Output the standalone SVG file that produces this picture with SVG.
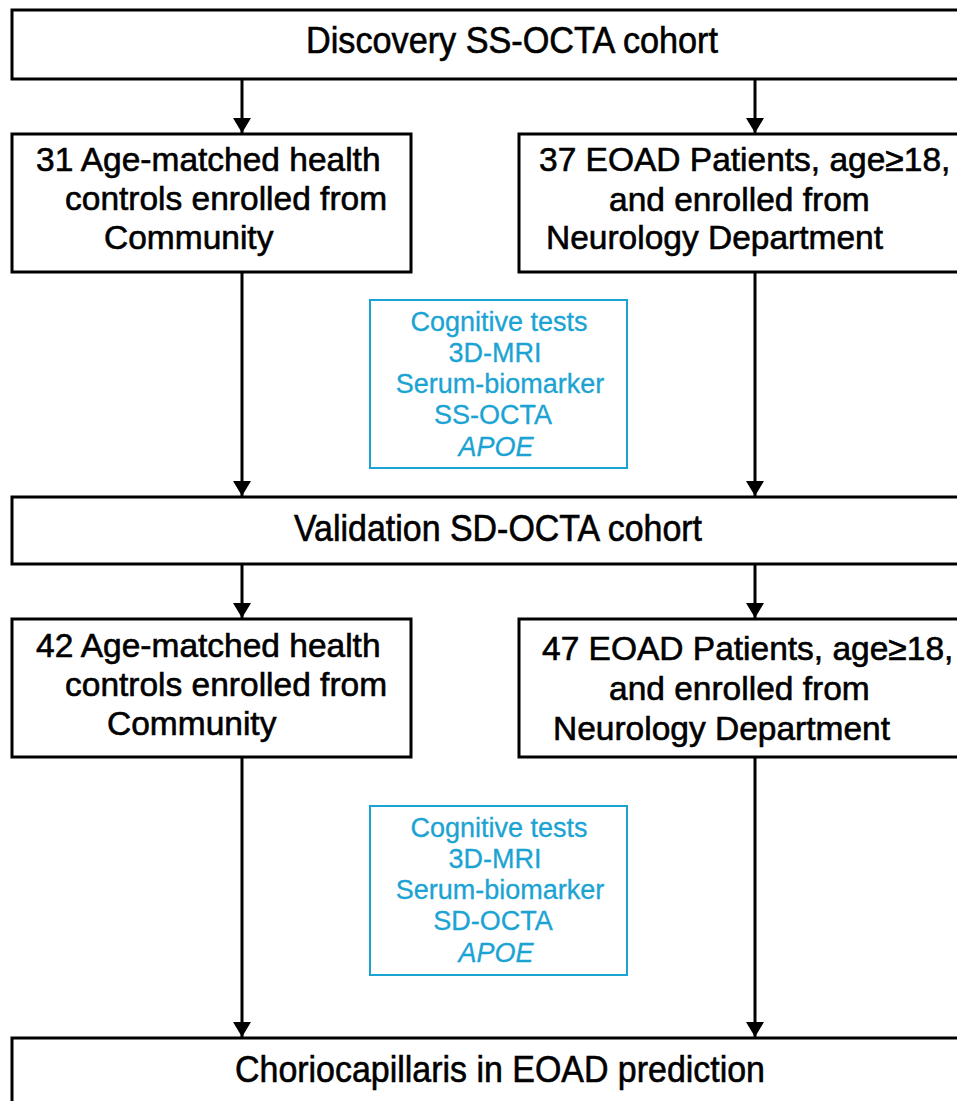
<svg xmlns="http://www.w3.org/2000/svg" width="957" height="1101" viewBox="0 0 957 1101">
<style>
.box{fill:#fff;stroke:#000;stroke-width:3}
.cbox{fill:#fff;stroke:#1ba3d3;stroke-width:2}
.t{font-family:"Liberation Sans",Arial,sans-serif;font-size:33.5px;fill:#000;stroke:#000;stroke-width:0.6}
.h{font-family:"Liberation Sans",Arial,sans-serif;font-size:36px;fill:#000;stroke:#000;stroke-width:0.6;text-anchor:middle}
.c{font-family:"Liberation Sans",Arial,sans-serif;font-size:27px;fill:#1ba3d3;stroke:#1ba3d3;stroke-width:0.3;text-anchor:middle}
.conn{stroke:#000;stroke-width:3;fill:none;marker-end:url(#ah)}
</style>
<defs>
<marker id="ah" markerUnits="userSpaceOnUse" markerWidth="16" markerHeight="18" refX="15" refY="9" orient="auto">
<path d="M0,0 L15,9 L0,18 Z" fill="#000"/>
</marker>
</defs>
<rect width="957" height="1101" fill="#fff"/>
<g id="connectors">
<line class="conn" x1="242" y1="79" x2="242" y2="133"/>
<line class="conn" x1="755" y1="79" x2="755" y2="133"/>
<line class="conn" x1="242" y1="272" x2="242" y2="496"/>
<line class="conn" x1="755" y1="272" x2="755" y2="496"/>
<line class="conn" x1="242" y1="564" x2="242" y2="618"/>
<line class="conn" x1="755" y1="564" x2="755" y2="618"/>
<line class="conn" x1="242" y1="757" x2="242" y2="1037"/>
<line class="conn" x1="755" y1="757" x2="755" y2="1037"/>
</g>
<g id="discovery">
<rect class="box" x="12" y="10" width="960" height="69"/>
<text class="h" x="512" y="53" textLength="412" lengthAdjust="spacingAndGlyphs">Discovery SS-OCTA cohort</text>
</g>
<g id="controls1">
<rect class="box" x="12" y="134" width="399" height="138"/>
<text class="t" x="36" y="171">31 Age-matched health</text>
<text class="t" x="65" y="210">controls enrolled from</text>
<text class="t" x="104" y="249">Community</text>
</g>
<g id="patients1">
<rect class="box" x="519" y="134" width="460" height="138"/>
<text class="t" x="539" y="171">37 EOAD Patients, age≥18,</text>
<text class="t" x="609" y="211">and enrolled from</text>
<text class="t" x="546" y="249">Neurology Department</text>
</g>
<g id="tests1">
<rect class="cbox" x="370" y="300" width="257" height="168"/>
<text class="c" x="499" y="331">Cognitive tests</text>
<text class="c" x="495" y="362">3D-MRI</text>
<text class="c" x="500" y="393">Serum-biomarker</text>
<text class="c" x="493" y="424">SS-OCTA</text>
<text class="c" x="496" y="456" font-style="italic">APOE</text>
</g>
<g id="validation">
<rect class="box" x="12" y="497" width="960" height="67"/>
<text class="h" x="498" y="541" textLength="408" lengthAdjust="spacingAndGlyphs">Validation SD-OCTA cohort</text>
</g>
<g id="controls2">
<rect class="box" x="12" y="619" width="399" height="138"/>
<text class="t" x="36" y="657">42 Age-matched health</text>
<text class="t" x="65" y="696">controls enrolled from</text>
<text class="t" x="107" y="735">Community</text>
</g>
<g id="patients2">
<rect class="box" x="519" y="619" width="460" height="138"/>
<text class="t" x="542" y="660">47 EOAD Patients, age≥18,</text>
<text class="t" x="609" y="700">and enrolled from</text>
<text class="t" x="553" y="740">Neurology Department</text>
</g>
<g id="tests2">
<rect class="cbox" x="370" y="806" width="257" height="169"/>
<text class="c" x="499" y="837">Cognitive tests</text>
<text class="c" x="495" y="868">3D-MRI</text>
<text class="c" x="500" y="899">Serum-biomarker</text>
<text class="c" x="493" y="930">SD-OCTA</text>
<text class="c" x="496" y="962" font-style="italic">APOE</text>
</g>
<g id="prediction">
<rect class="box" x="12" y="1038" width="960" height="80"/>
<text class="h" x="500" y="1082" textLength="530" lengthAdjust="spacingAndGlyphs">Choriocapillaris in EOAD prediction</text>
</g>
</svg>
